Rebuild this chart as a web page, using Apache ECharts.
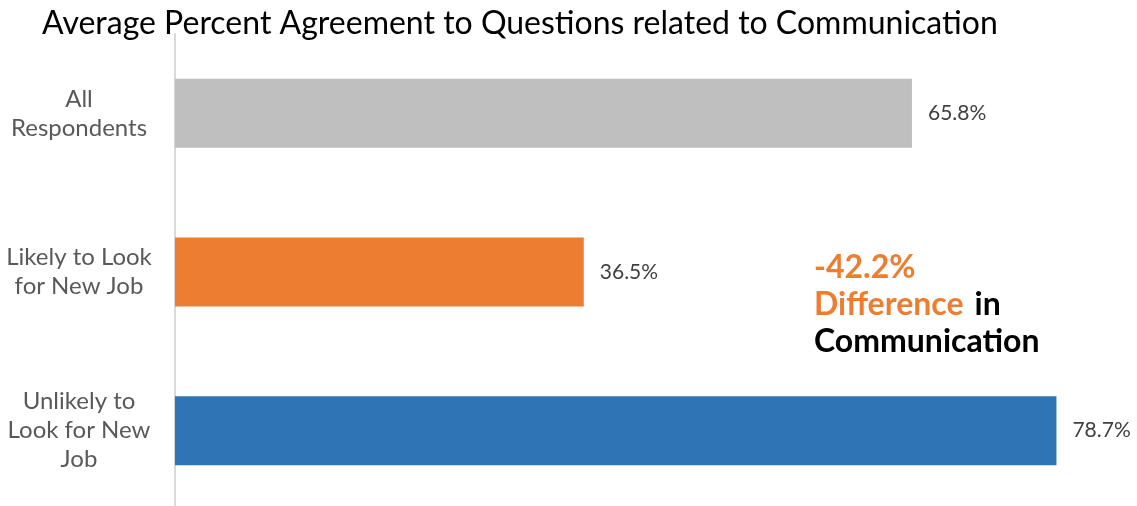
<!DOCTYPE html>
<html>
<head>
<meta charset="utf-8">
<script src="https://cdn.jsdelivr.net/npm/echarts@6/dist/echarts.min.js"></script>
<style>
  html, body { margin: 0; padding: 0; background: #fff; }
  #chart { width: 1137px; height: 506px; }
</style>
</head>
<body>
<div id="chart"></div>
<script>
// Respondent groups and their average agreement (%) on communication questions
const categories = ['All\nRespondents', 'Likely to Look\nfor New Job', 'Unlikely to\nLook for New\nJob'];
const values = [65.8, 36.5, 78.7];
const barColors = ['#BFBFBF', '#ED7D31', '#2E75B6'];

// Gap between those likely and unlikely to look for a new job
const difference = (values[1] - values[2]).toFixed(1);

const FONT = 'Lato, "Noto Sans", sans-serif';

const chart = echarts.init(document.getElementById('chart'), null, { renderer: 'canvas' });

chart.setOption({
  animation: false,
  title: {
    text: 'Average Percent Agreement to Questions related to Communication',
    left: 37,
    top: 3,
    textStyle: { fontFamily: FONT, fontSize: 32, fontWeight: 'normal', color: '#000' }
  },
  grid: {
    left: 175, top: 34, width: 896, height: 476,
    containLabel: false,
    outerBoundsMode: 'none'
  },
  xAxis: {
    type: 'value',
    min: 0,
    max: 80,
    show: false
  },
  yAxis: {
    type: 'category',
    inverse: true,
    data: categories,
    axisLine: { show: true, lineStyle: { color: '#D9D9D9', width: 2 } },
    axisTick: { show: false },
    axisLabel: {
      margin: 96,
      align: 'center',
      fontFamily: FONT,
      fontSize: 24,
      lineHeight: 29,
      color: '#595959'
    }
  },
  series: [{
    type: 'bar',
    barWidth: 69,
    data: values.map((v, i) => ({ value: v, itemStyle: { color: barColors[i] } })),
    label: {
      show: true,
      position: 'right',
      distance: 16,
      formatter: p => p.value.toFixed(1) + '%',
      fontFamily: FONT,
      fontSize: 21,
      color: '#404040'
    }
  }],
  graphic: [{
    type: 'text',
    left: 814,
    top: 249,
    style: {
      text: '{o|' + difference + '%}\n{o|Difference}{g|in}\n{k|Communication}',
      font: 'bold 32px ' + FONT,
      lineHeight: 37,
      rich: {
        o: { font: 'bold 32px ' + FONT, fill: '#ED7D31', lineHeight: 37 },
        g: { font: 'bold 32px ' + FONT, fill: '#000000', lineHeight: 37, padding: [0, 0, 0, 11] },
        k: { font: 'bold 32px ' + FONT, fill: '#000000', lineHeight: 37 }
      }
    }
  }]
});
</script>
</body>
</html>
